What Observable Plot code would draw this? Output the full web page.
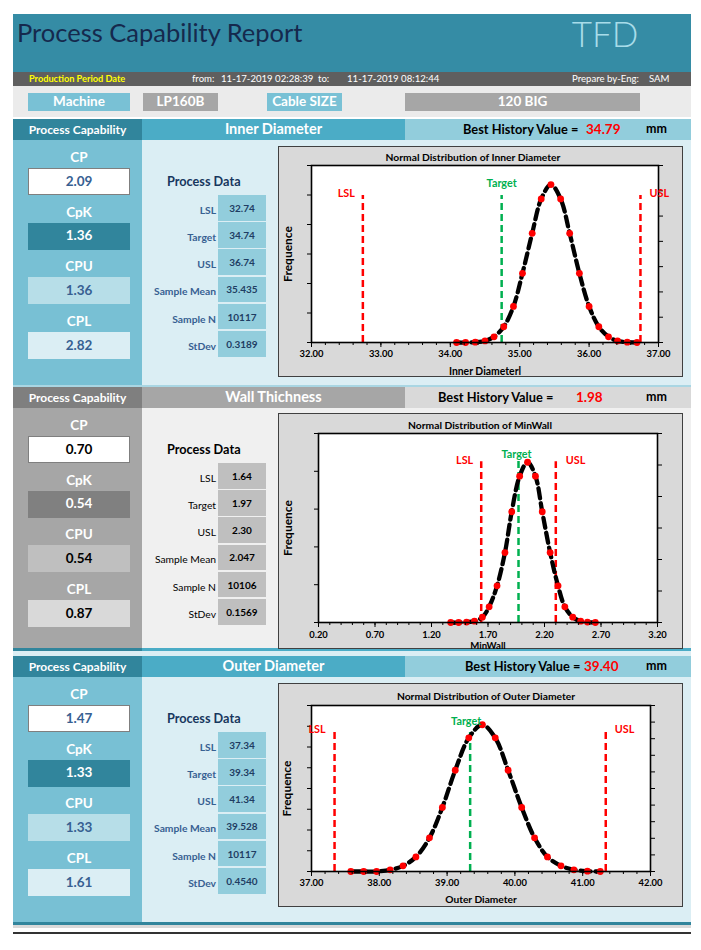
<!DOCTYPE html>
<html><head><meta charset="utf-8">
<script src="https://cdn.jsdelivr.net/npm/d3@7"></script>
<script src="https://cdn.jsdelivr.net/npm/@observablehq/plot@0.6"></script>
<style>
body{margin:0;background:#fff;width:701px;height:950px;position:relative;overflow:hidden;font-family:Lato,"Open Sans",sans-serif;}
.a{position:absolute;box-sizing:border-box;display:flex;align-items:center;justify-content:center;white-space:nowrap;line-height:1;}
</style></head><body>
<script>
// ---------- data ----------
const reportTitle = "Process Capability Report";
const periodFrom = "11-17-2019 02:28:39";
const periodTo = "11-17-2019 08:12:44";
const engineer = "SAM";
const machine = "LP160B";
const cableSize = "120 BIG";

const sectionNames = ["Inner Diameter", "Wall Thichness", "Outer Diameter"];
const bestHistory = ["34.79", "1.98", "39.40"];
const capLabels = ["CP", "CpK", "CPU", "CPL"];
const capID = ["2.09", "1.36", "1.36", "2.82"];
const capWall = ["0.70", "0.54", "0.54", "0.87"];
const capOD = ["1.47", "1.33", "1.33", "1.61"];
const dataLabels = ["LSL", "Target", "USL", "Sample Mean", "Sample N", "StDev"];
const dataID = ["32.74", "34.74", "36.74", "35.435", "10117", "0.3189"];
const dataWall = ["1.64", "1.97", "2.30", "2.047", "10106", "0.1569"];
const dataOD = ["37.34", "39.34", "41.34", "39.528", "10117", "0.4540"];

const specNames = ["LSL", "Target", "USL"];
const idSpec = [32.74, 34.74, 36.74];
const wallSpec = [1.64, 1.97, 2.30];
const odSpec = [37.34, 39.34, 41.34];

const idX = [34.09, 34.22, 34.36, 34.50, 34.63, 34.77, 34.91, 35.04, 35.18, 35.31, 35.45, 35.59, 35.72, 35.86, 36.00, 36.14, 36.28, 36.41, 36.55, 36.69];
const idY = [0, 0, 0.002, 0.009, 0.032, 0.089, 0.204, 0.391, 0.617, 0.811, 0.892, 0.811, 0.617, 0.391, 0.204, 0.089, 0.032, 0.009, 0.002, 0];
const wallX = [1.37, 1.44, 1.51, 1.58, 1.65, 1.71, 1.78, 1.85, 1.91, 1.98, 2.05, 2.12, 2.18, 2.25, 2.32, 2.38, 2.45, 2.52, 2.58, 2.65];
const wallY = [0, 0, 0.002, 0.007, 0.028, 0.083, 0.194, 0.370, 0.586, 0.774, 0.848, 0.774, 0.586, 0.370, 0.194, 0.083, 0.028, 0.007, 0.002, 0];
const odX = [37.58, 37.77, 37.96, 38.16, 38.35, 38.54, 38.74, 38.93, 39.12, 39.32, 39.52, 39.71, 39.90, 40.10, 40.29, 40.48, 40.68, 40.87, 41.07, 41.26];
const odY = [0, 0, 0, 0.010, 0.034, 0.088, 0.203, 0.386, 0.610, 0.805, 0.884, 0.805, 0.610, 0.386, 0.203, 0.088, 0.034, 0.010, 0.002, 0];

const idTicks = [32, 33, 34, 35, 36, 37];
const wallTicks = [0.2, 0.7, 1.2, 1.7, 2.2, 2.7, 3.2];
const odTicks = [37, 38, 39, 40, 41, 42];

const chartTitles = ["Normal Distribution of Inner Diameter", "Normal Distribution of MinWall", "Normal Distribution of Outer Diameter"];
const xLabels = ["Inner Diameterl", "MinWall", "Outer Diameter"];

// ---------- helpers ----------
function box(x, y, w, h, bg, txt, st = {}) {
  const d = document.createElement("div");
  d.className = "a";
  Object.assign(d.style, {left: x + "px", top: y + "px", width: w + "px", height: h + "px", background: bg || "transparent"}, st);
  if (txt != null) d.textContent = txt;
  document.body.appendChild(d);
  return d;
}

// ---------- header ----------
box(13, 14, 678, 58, "#358ca5");
box(17, 19, 340, 27, null, reportTitle, {justifyContent: "flex-start", fontSize: "25.5px", color: "#15294d"});
box(540, 18, 130, 30, null, "TFD", {fontSize: "35px", color: "#a8dce9", fontWeight: "300"});
box(13, 72, 678, 14, "#5f5f5f");
const small = {justifyContent: "flex-start", fontSize: "9.6px", color: "#fff"};
box(29, 72, 130, 14, null, "Production Period Date", {...small, fontSize: "9.2px", color: "#ffff00", fontWeight: "bold"});
box(192, 72, 30, 14, null, "from:", small);
box(221, 72, 100, 14, null, periodFrom, small);
box(318, 72, 20, 14, null, "to:", small);
box(347, 72, 100, 14, null, periodTo, small);
box(572, 72, 80, 14, null, "Prepare by-Eng:", small);
box(649, 72, 30, 14, null, engineer, small);
box(13, 86, 678, 31, "#ebebeb");
const info = {color: "#fff", fontWeight: "bold", fontSize: "13.5px"};
box(28, 93, 102, 18, "#79c1d5", "Machine", info);
box(143, 93, 75, 18, "#a6a6a6", machine, info);
box(267, 93, 75, 18, "#79c1d5", "Cable SIZE", info);
box(405, 93, 235, 18, "#a6a6a6", cableSize, info);

// ---------- sections ----------
const blueTheme = {pc: "#31859c", mid: "#4bacc6", right: "#92cddc", panel: "#78c0d4", body: "#dbeef4",
  capBg: ["#ffffff", "#31859c", "#b7dee8", "#dbeef4"], capFg: ["#376092", "#ffffff", "#376092", "#376092"],
  pdTitle: "#17375e", dLbl: "#376092", dLblW: "bold", dBox: "#92cddc", dVal: "#1f3d63"};
const grayTheme = {pc: "#7f7f7f", mid: "#a6a6a6", right: "#d9d9d9", panel: "#a6a6a6", body: "#f0f0f0",
  capBg: ["#ffffff", "#808080", "#bfbfbf", "#d9d9d9"], capFg: ["#000000", "#ffffff", "#000000", "#000000"],
  pdTitle: "#000000", dLbl: "#000000", dLblW: "normal", dBox: "#bfbfbf", dVal: "#000000"};
const themes = [blueTheme, grayTheme, blueTheme];
const sectionTops = [119, 387, 656];
const bodyBottoms = [385, 648, 922];
const caps = [capID, capWall, capOD];
const datas = [dataID, dataWall, dataOD];
const bhLabelX = [463, 438, 465];
const bhValX = [586, 576, 584];

sectionNames.forEach((name, s) => {
  const t = themes[s], hy = sectionTops[s], bb = bodyBottoms[s];
  box(13, hy, 129, 21, t.pc, "Process Capability", {color: "#fff", fontWeight: "bold", fontSize: "12px"});
  box(142, hy, 263, 21, t.mid, name, {color: "#fff", fontWeight: "bold", fontSize: "14.5px"});
  box(405, hy, 286, 21, t.right);
  box(bhLabelX[s], hy, 130, 21, null, "Best History Value =", {justifyContent: "flex-start", fontWeight: "bold", fontSize: "12.8px", color: "#000"});
  box(bhValX[s], hy, 50, 21, null, bestHistory[s], {justifyContent: "flex-start", fontWeight: "bold", fontSize: "13.5px", color: "#ff0000"});
  box(646, hy, 30, 21, null, "mm", {justifyContent: "flex-start", fontWeight: "bold", fontSize: "12.5px", color: "#000"});
  box(13, hy + 21, 129, bb - hy - 21, t.panel);
  box(142, hy + 21, 549, bb - hy - 21, t.body);
  capLabels.forEach((lab, i) => {
    const ly = hy + 39 + 54.5 * i;
    box(28, ly - 8, 102, 16, null, lab, {color: "#fff", fontWeight: "bold", fontSize: "13.5px"});
    const by = hy + 49 + 54.7 * i;
    box(28, by, 102, 27, t.capBg[i], caps[s][i], {color: t.capFg[i], fontWeight: "bold", fontSize: "13.5px",
      border: i === 0 ? "1px solid #7f7f7f" : "none"});
  });
  box(167, hy + 54, 120, 17, null, "Process Data", {justifyContent: "flex-start", fontWeight: "bold", fontSize: "12.7px", color: t.pdTitle});
  dataLabels.forEach((lab, i) => {
    const cy = hy + 91 + 27.2 * i;
    box(110, cy - 8, 106, 16, null, lab, {justifyContent: "flex-end", fontWeight: t.dLblW, fontSize: "10.3px", color: t.dLbl});
    box(218, hy + 76 + 27.2 * i, 48, 25.5, t.dBox, datas[s][i], {fontWeight: "bold", fontSize: "10px", color: t.dVal});
  });
});
box(13, 385, 678, 2, "#a9d6e3");
box(13, 648, 129, 3, "#31859c");
box(142, 648, 549, 3, "#4bacc6");
box(13, 651, 678, 5, "#dbeef4");
box(13, 922, 678, 3, "#31859c");
box(13, 925, 678, 3, "#d9d9d9");
box(13, 932, 678, 2, "#333333");

// ---------- charts ----------
function chart(cfg) {
  const frame = document.createElement("div");
  Object.assign(frame.style, {position: "absolute", left: cfg.fx + "px", top: cfg.fy + "px", width: cfg.fw + "px", height: cfg.fh + "px",
    background: "#d9d9d9", border: "1px solid #404040", boxSizing: "border-box"});
  document.body.appendChild(frame);
  const W = cfg.fw - 2, H = cfg.fh - 2;
  const [lsl, tgt, usl] = cfg.spec;
  const pts = cfg.xs.map((x, i) => ({x, y: cfg.ys[i]}));
  const minor = d3.range(Math.round((cfg.domain[1] - cfg.domain[0]) / cfg.minorStep) + 1)
    .map(i => cfg.domain[0] + i * cfg.minorStep);
  const lab = {fontWeight: "bold", fontSize: 10.8};
  const svg = Plot.plot({
    width: W, height: H,
    marginTop: cfg.m[0], marginRight: cfg.m[1], marginBottom: cfg.m[2], marginLeft: cfg.m[3],
    style: {background: "transparent", fontFamily: "Lato, sans-serif", overflow: "visible", position: "absolute", left: "0px", top: "0px"},
    x: {domain: cfg.domain},
    y: {domain: [0, 1]},
    marks: [
      Plot.frame({fill: "white", stroke: "none"}),
      Plot.ruleX([lsl, usl], {x: d => d, y1: 0, y2: cfg.lineTop, stroke: "#ff0000", strokeWidth: 2.5, strokeDasharray: "7,4"}),
      Plot.ruleX([tgt], {x: d => d, y1: 0, y2: cfg.tgtTop, stroke: "#00b050", strokeWidth: 2.5, strokeDasharray: "7,4"}),
      Plot.line(pts, {x: "x", y: "y", curve: "catmull-rom", stroke: "black", strokeWidth: 4.3, strokeDasharray: "10,5"}),
      Plot.dot(pts, {x: "x", y: "y", r: 3.4, fill: "#ff0000", stroke: "none"}),
      Plot.frame({stroke: "black", strokeWidth: 1.6}),
      Plot.axisY(d3.range(cfg.nl + 1).map(i => i / cfg.nl), {anchor: "left", tickSize: 4, tickFormat: () => "", label: null}),
      Plot.axisY(d3.range(cfg.nr + 1).map(i => i / cfg.nr), {anchor: "right", tickSize: 4, tickFormat: () => "", label: null}),
      Plot.axisX(minor, {anchor: "bottom", tickSize: 3, tickFormat: () => "", label: null}),
      Plot.axisX(cfg.ticks, {anchor: "bottom", tickSize: 5, tickPadding: cfg.tp, tickFormat: d3.format(".2f"), fontSize: 9.4, fontWeight: "bold", label: null}),
      Plot.text([lsl], {x: d => d, y: cfg.lblY, text: () => specNames[0], textAnchor: "end", dx: cfg.dxL, fill: "#ff0000", ...lab}),
      Plot.text([tgt], {x: d => d, y: cfg.tgtY, text: () => specNames[1], textAnchor: "middle", dx: cfg.dxT, fill: "#00b050", ...lab}),
      Plot.text([usl], {x: d => d, y: cfg.lblY, text: () => specNames[2], textAnchor: "start", dx: cfg.dxU, fill: "#ff0000", ...lab}),
      Plot.text(["Frequence"], {text: d => d, frameAnchor: "left", rotate: -90, dx: cfg.fqx - cfg.m[3], textAnchor: "middle", lineAnchor: "middle", fontWeight: "bold", fontSize: 12}),
      Plot.text([cfg.xlabel], {text: d => d, frameAnchor: "bottom", dy: cfg.xlDy, textAnchor: "middle", lineAnchor: "middle", fontWeight: "bold", fontSize: cfg.xlfs})
    ]
  });
  frame.appendChild(svg);
  const tt = document.createElement("div");
  tt.className = "a";
  tt.textContent = cfg.title;
  Object.assign(tt.style, {left: (cfg.tcx - 150) + "px", top: (cfg.tcy - 7) + "px", width: "300px", height: "14px", fontWeight: "bold", fontSize: "10.3px", color: "#000"});
  frame.appendChild(tt);
}

chart({fx: 278, fy: 146, fw: 405, fh: 231, m: [18, 24, 34, 32], domain: [32, 37], ticks: idTicks, minorStep: 0.2,
  nl: 6, nr: 7, spec: idSpec, xs: idX, ys: idY, lineTop: 0.83, tgtTop: 0.83, lblY: 0.84, tgtY: 0.896,
  dxL: -8, dxU: 9, dxT: 0, tp: 3, xlDy: 29, xlfs: 10.4, fqx: 8.5, tcx: 194, tcy: 9.7, xlabel: xLabels[0], title: chartTitles[0]});
chart({fx: 278, fy: 413, fw: 405, fh: 236, m: [19, 25, 26, 39], domain: [0.2, 3.2], ticks: wallTicks, minorStep: 0.1,
  nl: 5, nr: 6, spec: wallSpec, xs: wallX, ys: wallY, lineTop: 0.85, tgtTop: 0.86, lblY: 0.855, tgtY: 0.89,
  dxL: -8, dxU: 10, dxT: -2, tp: 3.5, xlDy: 23.5, xlfs: 9.6, fqx: 8.5, tcx: 201, tcy: 11, xlabel: xLabels[1], title: chartTitles[1]});
chart({fx: 278, fy: 683, fw: 405, fh: 224, m: [21, 32, 35, 32], domain: [37, 42], ticks: odTicks, minorStep: 0.2,
  nl: 8, nr: 10, spec: odSpec, xs: odX, ys: odY, lineTop: 0.86, tgtTop: 0.86, lblY: 0.853, tgtY: 0.906,
  dxL: -9, dxU: 9, dxT: -4, tp: 3, xlDy: 28, xlfs: 10.2, fqx: 7.5, tcx: 207, tcy: 12.3, xlabel: xLabels[2], title: chartTitles[2]});
</script>
</body></html>
